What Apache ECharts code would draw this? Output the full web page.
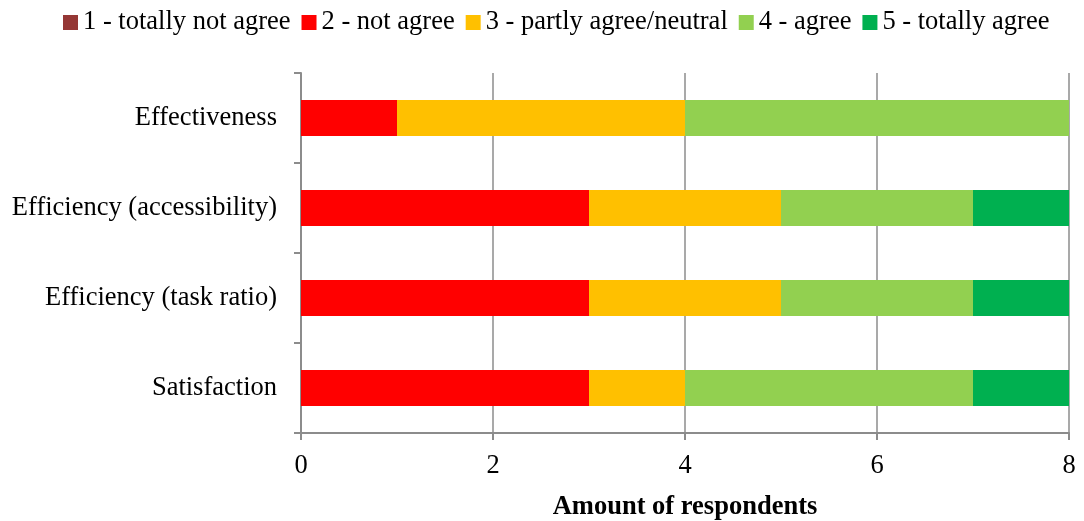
<!DOCTYPE html>
<html>
<head>
<meta charset="utf-8">
<script src="https://cdn.jsdelivr.net/npm/echarts@6/dist/echarts.min.js"></script>
<style>
  html, body { margin: 0; padding: 0; background: #fff; }
  #chart { width: 1084px; height: 521px; }
</style>
</head>
<body>
<div id="chart"></div>
<script>
// Survey criteria (bottom to top on the category axis)
const categories = ['Satisfaction', 'Efficiency (task ratio)', 'Efficiency (accessibility)', 'Effectiveness'];

// Number of respondents per answer level, in the same order as categories
const level1 = [0, 0, 0, 0];
const level2 = [3, 3, 3, 1];
const level3 = [1, 2, 2, 3];
const level4 = [3, 2, 2, 4];
const level5 = [1, 1, 1, 0];

const seriesNames = ['1 - totally not agree', '2 - not agree', '3 - partly agree/neutral', '4 - agree', '5 - totally agree'];
const seriesColors = ['#953735', '#FF0000', '#FFC000', '#92D050', '#00B050'];
const seriesData = [level1, level2, level3, level4, level5];

const xTicks = [0, 2, 4, 6, 8];

const font = '"Liberation Serif", "Times New Roman", serif';
const fontSize = 26.5;
const axisGray = '#8c8c8c';

const chart = echarts.init(document.getElementById('chart'), null, { renderer: 'canvas' });

chart.setOption({
  animation: false,
  textStyle: { fontFamily: font },
  legend: {
    top: 4,
    left: 58,
    itemWidth: 15,
    itemHeight: 15,
    itemGap: 11,
    icon: 'rect',
    textStyle: { fontFamily: font, fontSize: fontSize, color: '#000', padding: [0, 0, 0, 0] },
    data: seriesNames
  },
  grid: { left: 301, right: 15, top: 73, bottom: 88, containLabel: false, outerBoundsMode: 'none' },
  xAxis: {
    type: 'value',
    min: xTicks[0],
    max: xTicks[xTicks.length - 1],
    interval: 2,
    name: 'Amount of respondents',
    nameLocation: 'middle',
    nameGap: 61,
    nameTextStyle: { fontFamily: font, fontSize: fontSize, fontWeight: 'bold', color: '#000' },
    axisLine: { show: true, lineStyle: { color: axisGray, width: 2 } },
    axisTick: { show: true, length: 7, lineStyle: { color: axisGray, width: 2 } },
    axisLabel: { fontFamily: font, fontSize: fontSize, color: '#000', margin: 20 },
    splitLine: { show: true, lineStyle: { color: axisGray, width: 1.5 } }
  },
  yAxis: {
    type: 'category',
    data: categories,
    axisLine: { show: true, lineStyle: { color: axisGray, width: 2 } },
    axisTick: { show: true, length: 7, lineStyle: { color: axisGray, width: 2 } },
    axisLabel: { fontFamily: font, fontSize: fontSize, color: '#000', margin: 24 },
    splitLine: { show: false }
  },
  series: seriesNames.map((name, i) => ({
    name: name,
    type: 'bar',
    stack: 'total',
    barWidth: '40%',
    itemStyle: { color: seriesColors[i] },
    data: seriesData[i]
  }))
});
</script>
</body>
</html>
